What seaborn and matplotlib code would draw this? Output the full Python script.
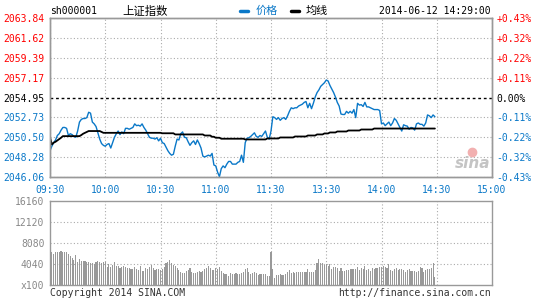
import numpy as np
import pandas as pd
import matplotlib
matplotlib.use("Agg")
import matplotlib.pyplot as plt
import seaborn as sns
from matplotlib.lines import Line2D

# ---------------- data ----------------
price = [
    2049.0, 2049.5, 2049.9, 2050.2, 2050.7, 2050.9, 2051.3, 2051.6, 2051.6, 2051.5,
    2050.7, 2050.9, 2050.8, 2050.6, 2050.5, 2051.2, 2052.2, 2052.5, 2052.6, 2052.6,
    2052.7, 2053.3, 2053.2, 2052.2, 2052.0, 2051.7, 2051.0, 2050.3, 2049.8, 2049.6,
    2049.5, 2049.7, 2049.8, 2049.3, 2049.9, 2050.5, 2050.9, 2051.2, 2050.8, 2051.1,
    2050.9, 2051.5, 2051.5, 2051.4, 2051.5, 2051.6, 2052.0, 2051.8, 2051.85, 2051.75,
    2052.0, 2051.6, 2051.3, 2050.9, 2050.5, 2050.4, 2050.4, 2050.3, 2050.45, 2050.1,
    2050.4, 2049.9, 2049.8, 2049.4, 2049.0, 2048.7, 2048.5, 2048.6, 2049.5, 2050.3,
    2050.2, 2050.9, 2051.1, 2050.5, 2050.45, 2050.0, 2049.6, 2049.9, 2050.1, 2049.7,
    2050.2, 2049.8, 2049.3, 2048.4, 2048.3, 2048.4, 2048.5, 2048.4, 2048.7, 2047.4,
    2047.3, 2046.6, 2046.1, 2047.0, 2047.3, 2047.1, 2047.5, 2047.8, 2047.8, 2047.5,
    2047.5, 2047.5, 2047.7, 2047.8, 2048.5, 2047.7, 2049.9, 2050.4, 2050.45, 2050.6,
    2050.8, 2051.0, 2050.6, 2050.5, 2050.7, 2050.6, 2050.9, 2051.2, 2050.5, 2050.3,
    2051.2, 2052.8, 2052.7, 2052.5, 2052.7, 2052.4, 2052.6, 2052.7, 2052.5, 2052.9,
    2053.4, 2053.8, 2053.7, 2053.8, 2053.8, 2054.0, 2054.1, 2054.2, 2054.4, 2054.5,
    2053.8, 2054.3, 2053.7, 2054.3, 2055.0, 2055.5, 2055.8, 2056.2, 2056.4, 2056.6,
    2056.9, 2056.8, 2056.3, 2055.9, 2055.5, 2055.0, 2054.4, 2054.0, 2053.1, 2053.05,
    2053.05, 2053.4, 2053.2, 2053.4, 2053.2, 2053.6, 2052.7, 2054.3, 2054.1, 2054.15,
    2053.95, 2054.4, 2053.9, 2053.9, 2053.8, 2053.7, 2053.6, 2053.6, 2053.6, 2053.5,
    2052.0, 2052.1, 2051.8, 2052.0, 2052.2, 2051.8, 2052.1, 2052.6, 2052.4, 2052.0,
    2051.6, 2051.2, 2051.9, 2051.8, 2051.75, 2051.4, 2051.6, 2051.55, 2051.3, 2052.0,
    2052.1, 2051.95, 2051.95, 2051.75, 2052.1, 2053.0, 2052.9, 2052.7, 2053.0, 2052.8,
]

avg_line = (
    [2050.5, 2049.7, 2049.9, 2050.0, 2050.15, 2050.3, 2050.45]
    + [2050.63] * 10 + [2050.75, 2050.9, 2051.0, 2051.1]
    + [2051.2] * 7 + [2051.1] + [2051.0] * 32 + [2050.95] * 7
    + [2050.82] * 16 + [2050.7] * 4 + [2050.56] * 2 + [2050.45] * 3
    + [2050.34] * 13 + [2050.26] * 12
    + [2050.37] * 7 + [2050.48] * 8 + [2050.59] * 7 + [2050.70] * 5
    + [2050.82] * 4 + [2050.93] * 3 + [2051.04] * 4 + [2051.15] * 6
    + [2051.26] * 7 + [2051.37] * 7 + [2051.48] * 34
)

volume = [
    5440, 6410, 5960, 6280, 6280, 6410, 6540, 6410, 6410, 6280,
    5960, 5580, 5130, 4810, 5770, 4490, 5000, 4680, 4680, 4550,
    4490, 4360, 4170, 4170, 4040, 4490, 4680, 4490, 4300, 4360,
    4360, 3530, 3970, 3530, 3850, 4330, 3650, 3720, 3330, 3400,
    3650, 3530, 3330, 3330, 3010, 3010, 3530, 3010, 2880, 3650,
    2760, 2760, 3200, 3010, 3400, 3850, 3200, 2880, 3080, 3080,
    2880, 3080, 3530, 4170, 4490, 4810, 4300, 3850, 3650, 3330,
    2880, 2560, 2370, 2370, 2760, 2880, 3200, 2560, 2370, 2370,
    2560, 2760, 2560, 2760, 3080, 3330, 3650, 3200, 2880, 2880,
    3330, 3010, 3530, 2690, 2370, 2050, 2050, 1790, 2240, 2120,
    2050, 2240, 2050, 2120, 2240, 2560, 3010, 3200, 2560, 2120,
    2370, 2560, 2370, 1920, 2050, 2120, 2120, 2050, 1660, 1790,
    6410, 3080, 1280, 1920, 1920, 2050, 1920, 1920, 2050, 2560,
    2880, 2370, 2440, 2370, 2560, 2440, 2440, 2440, 2440, 2440,
    3080, 2560, 2560, 2560, 2880, 4170, 5000, 4300, 4170, 3850,
    3970, 3650, 3970, 3080, 3400, 3400, 3200, 2760, 3200, 2760,
    2760, 2880, 2880, 3080, 3080, 3080, 3080, 3400, 2880, 3200,
    3010, 3650, 2880, 3010, 2760, 3200, 3080, 3200, 3330, 3530,
    3530, 3650, 3530, 3200, 3970, 2880, 2760, 3080, 3200, 2880,
    3010, 3010, 2880, 2560, 2880, 3010, 2690, 2690, 2690, 2560,
    2760, 3400, 3200, 2560, 2880, 3080, 3010, 3200, 4170, 1470,
]

time_positions = [0, 30, 60, 90, 120, 150, 180, 210, 240]
time_labels = ["09:30", "10:00", "10:30", "11:00", "11:30", "13:30", "14:00", "14:30", "15:00"]
price_ticks = [2046.06, 2048.28, 2050.50, 2052.73, 2054.95, 2057.17, 2059.39, 2061.62, 2063.84]
pct_labels = ["-0.43%", "-0.32%", "-0.22%", "-0.11%", "0.00%", "+0.11%", "+0.22%", "+0.32%", "+0.43%"]
vol_ticks = [0, 4040, 8080, 12120, 16160]
vol_labels = ["x100", "4040", "8080", "12120", "16160"]
prev_close = 2054.95

# ---------------- style ----------------
sns.set_style("white")
plt.rcParams["font.family"] = ["DejaVu Sans Mono", "Noto Sans CJK SC"]
BLUE = "#0a78c8"
RED = "#ff0000"
GRAY = "#999999"
FS = 7

W, H = 545, 300
fig = plt.figure(figsize=(W / 100, H / 100), dpi=100)


def box(l, t, r, b):
    return [l / W, 1 - b / H, (r - l) / W, (b - t) / H]


ax = fig.add_axes(box(50, 18, 492, 177))
axv = fig.add_axes(box(50, 201, 492, 285))

df = pd.DataFrame({"minute": np.arange(len(price)), "price": price, "avg": avg_line})
dfv = pd.DataFrame({"minute": np.arange(len(volume)), "volume": volume})

grid_kw = dict(color="#aaaaaa", linestyle=(0, (1, 2)), linewidth=0.8)

# main price panel
sns.lineplot(data=df, x="minute", y="price", ax=ax, color=BLUE, linewidth=1.0)
sns.lineplot(data=df, x="minute", y="avg", ax=ax, color="black", linewidth=1.3)
ax.axhline(prev_close, color="black", linestyle=(0, (2, 2)), linewidth=1.0, zorder=1)
ax.set_xlim(0, 240)
ax.set_ylim(price_ticks[0], price_ticks[-1])
ax.set_xticks(time_positions)
ax.set_xticklabels(time_labels, color=BLUE, fontsize=FS)
ax.set_yticks(price_ticks)
ax.set_yticklabels([f"{v:.2f}" for v in price_ticks], fontsize=FS)
for lab, v in zip(ax.get_yticklabels(), price_ticks):
    lab.set_color(RED if v > prev_close + 0.01 else ("black" if abs(v - prev_close) < 0.01 else BLUE))
ax.tick_params(length=0, pad=4)
ax.tick_params(axis="x", pad=6)
for y in price_ticks:
    if abs(y - prev_close) > 0.01:
        ax.axhline(y, zorder=0, **grid_kw)
for x in time_positions:
    ax.axvline(x, zorder=0, **grid_kw)
ax.set_xlabel("")
ax.set_ylabel("")

tw = ax.twinx()
tw.set_ylim(price_ticks[0], price_ticks[-1])
tw.set_yticks(price_ticks)
tw.set_yticklabels(pct_labels, fontsize=FS)
for lab, v in zip(tw.get_yticklabels(), price_ticks):
    lab.set_color(RED if v > prev_close + 0.01 else ("black" if abs(v - prev_close) < 0.01 else BLUE))
tw.tick_params(length=0, pad=3)

# volume panel
sns.barplot(data=dfv, x="minute", y="volume", ax=axv, native_scale=True,
            color=GRAY, saturation=1, width=0.6, linewidth=0)
axv.set_xlim(0, 240)
axv.set_ylim(0, 16160)
axv.set_xticks(time_positions)
axv.set_xticklabels([])
axv.set_yticks(vol_ticks)
axv.set_yticklabels(vol_labels, fontsize=FS, color="#888888")
axv.tick_params(length=0, pad=4)
for y in vol_ticks[1:-1]:
    axv.axhline(y, zorder=0, **grid_kw)
for x in time_positions[1:-1]:
    axv.axvline(x, zorder=0, **grid_kw)
axv.set_xlabel("")
axv.set_ylabel("")

for a in (ax, tw, axv):
    for s in a.spines.values():
        s.set_color(GRAY)
        s.set_linewidth(1.0)


def fx(px):
    return px / W


def fy(py):
    return 1 - py / H


# header
fig.text(fx(50), fy(11), "sh000001", fontsize=FS, color="black", va="center", ha="left")
fig.text(fx(122), fy(11), "上证指数", fontsize=8.2, color="black", va="center", ha="left",
         family=["Noto Sans CJK SC", "DejaVu Sans"])
fig.add_artist(Line2D([fx(240), fx(248)], [fy(10.5), fy(10.5)], color=BLUE, linewidth=2.5,
                      transform=fig.transFigure))
fig.text(fx(256), fy(11), "价格", fontsize=8, color=BLUE, va="center", ha="left",
         family=["Noto Sans CJK SC", "DejaVu Sans"])
fig.add_artist(Line2D([fx(291), fx(299)], [fy(10.5), fy(10.5)], color="black", linewidth=2.5,
                      transform=fig.transFigure))
fig.text(fx(306), fy(11), "均线", fontsize=8, color="black", va="center", ha="left",
         family=["Noto Sans CJK SC", "DejaVu Sans"])
fig.text(fx(491), fy(11), "2014-06-12 14:29:00", fontsize=FS, color="black", va="center", ha="right")

# footer
fig.text(fx(50), fy(292.5), "Copyright 2014 SINA.COM", fontsize=FS, color="#333333", va="center", ha="left")
fig.text(fx(491), fy(292.5), "http://finance.sina.com.cn", fontsize=FS, color="#333333",
         va="center", ha="right")

# watermark
fig.text(fx(473), fy(164), "sina", fontsize=11, color="#c4c4c4", style="italic", weight="bold",
         va="center", ha="center", family="DejaVu Sans")
fig.add_artist(Line2D([fx(472)], [fy(152)], marker="o", markersize=6, color="#f2b0b0",
                      transform=fig.transFigure))

fig.savefig("out.png", dpi=100)
